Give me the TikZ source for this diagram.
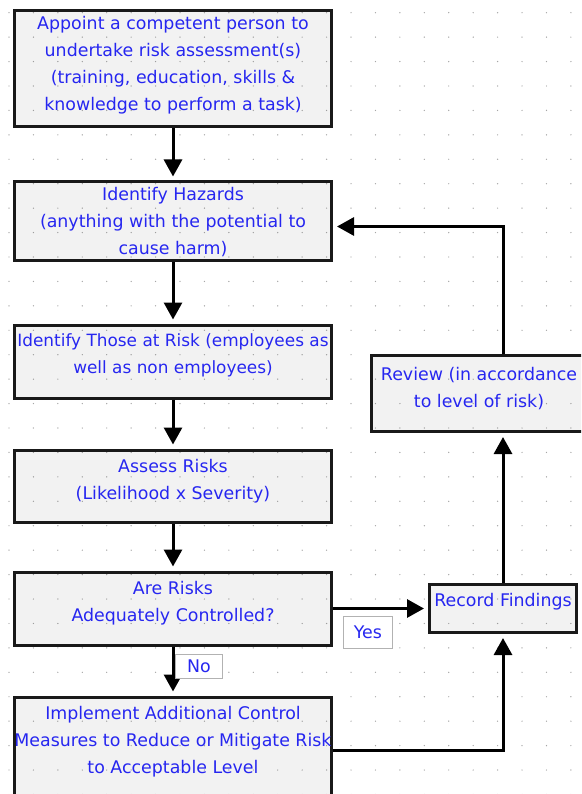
\documentclass[tikz,border=0pt]{standalone}
\usepackage{fontspec}
\setmainfont{DejaVu Sans}
\usepackage{xcolor}
\usetikzlibrary{arrows.meta}
\usetikzlibrary{positioning}

\definecolor{txtblue}{RGB}{38,38,240}

\begin{document}
\begin{tikzpicture}[x=1pt,y=-1pt,>={Triangle[length=17pt,width=18pt]},shorten >=4pt,node distance=49pt,line width=3pt,font=\fontsize{17.4pt}{27pt}\selectfont]
  \tikzstyle{task}=[draw=black!90, fill=black, fill opacity=0.05, text opacity=1, minimum width=317pt, inner sep=0pt]
  \tikzstyle{words}=[text=txtblue, align=center, anchor=north, inner sep=5pt]
  \tikzstyle{lower}=[yshift=-4pt]
  \tikzstyle{tag}=[draw=black!30, line width=0.8pt, fill=white, text=txtblue, inner sep=0pt]
  \useasboundingbox (0,0) rectangle (581,794);
  \clip (0,0) rectangle (581,794);
  % dotted grid
  \foreach \i in {0,...,23}
    \foreach \j in {0,...,32}
      \fill[black!35] (9+24.43*\i,12.7+24.43*\j) circle (0.7pt);
  % main column
  \node[task, minimum height=116pt, anchor=north, label={[words]north:{Appoint a competent person to\\undertake risk assessment(s)\\(training, education, skills \&\\knowledge to perform a task)}}] (appoint) at (173,9.5) {};
  \node[task, minimum height=78pt, below=52pt of appoint, label={[words]north:{Identify Hazards\\(anything with the potential to\\cause harm)}}] (hazards) {};
  \node[task, minimum height=73pt, below=62pt of hazards, label={[words, lower, font=\fontsize{16.9pt}{27pt}\selectfont]north:{Identify Those at Risk (employees as\\well as non employees)}}] (atrisk) {};
  \node[task, minimum height=72pt, below=of atrisk, label={[words, lower]north:{Assess Risks\\(Likelihood x Severity)}}] (assess) {};
  \node[task, minimum height=73pt, below=47pt of assess, label={[words, lower]north:{Are Risks\\Adequately Controlled?}}] (controlled) {};
  \node[task, minimum height=107pt, below=of controlled, label={[words, lower]north:{Implement Additional Control\\Measures to Reduce or Mitigate Risk\\to Acceptable Level}}] (implement) {};
  % right column
  \node[task, minimum width=147pt, minimum height=48pt, right=95pt of controlled, label={[words, lower]north:{Record Findings}}] (record) {};
  \node[task, minimum width=263pt, minimum height=76pt, above=150pt of record, label={[words, xshift=-24pt, yshift=-7pt]north:{Review (in accordance\\to level of risk)}}] (review) {};
  \path[->]
    (appoint) edge (hazards)
    (hazards) edge (atrisk)
    (atrisk) edge (assess)
    (assess) edge (controlled)
    (controlled) edge node[tag, pos=0, anchor=north west, xshift=10pt, yshift=-7pt, minimum width=49pt, minimum height=32pt] {Yes} (record)
    (controlled) edge node[tag, pos=0, anchor=north west, xshift=2pt, yshift=-7pt, minimum width=47pt, minimum height=24pt] {No} (implement)
    (record) edge (review);
  \draw[->] (implement) -| (record);
  \draw[->] (review) |- ([yshift=-5.5pt]hazards.east);
\end{tikzpicture}
\end{document}
